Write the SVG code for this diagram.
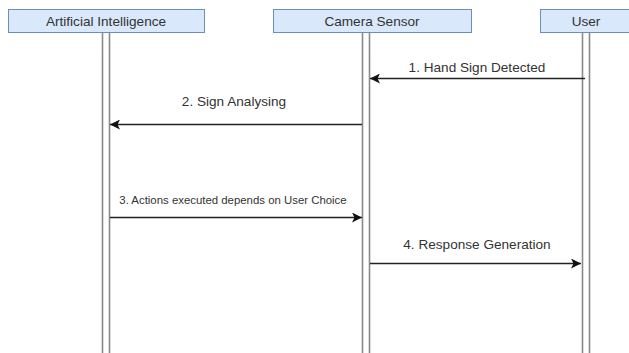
<svg xmlns="http://www.w3.org/2000/svg" width="629" height="353" viewBox="0 0 629 353">
<style>
.box{fill:#dae8fc;stroke:#6c8ebf;stroke-width:1}
.life{stroke:#8a8a8a;stroke-width:1.6;fill:none}
.hdr{font-family:"Liberation Sans",Arial,sans-serif;font-size:13.6px;fill:#333;text-anchor:middle}
.lbl{font-family:"Liberation Sans",Arial,sans-serif;font-size:13.6px;fill:#333;text-anchor:middle}
.sm{font-family:"Liberation Sans",Arial,sans-serif;font-size:11.4px;fill:#333;text-anchor:middle}
.msg{stroke:#222;stroke-width:1.3;fill:none;marker-end:url(#ah)}
</style>
<defs>
<marker id="ah" viewBox="0 0 10 10" refX="10" refY="5" markerWidth="10" markerHeight="10" markerUnits="userSpaceOnUse" orient="auto">
<path d="M0,0 L10,5 L0,10 L2.5,5 Z" fill="#111"/>
</marker>
</defs>
<rect width="629" height="353" fill="#fff"/>
<g id="ai">
<line class="life" x1="102.5" y1="33" x2="102.5" y2="353"/>
<line class="life" x1="109.5" y1="33" x2="109.5" y2="353"/>
<rect class="box" x="8.5" y="9.5" width="196" height="23"/>
<text class="hdr" x="106" y="25.5">Artificial Intelligence</text>
</g>
<g id="camera">
<line class="life" x1="362.5" y1="33" x2="362.5" y2="353"/>
<line class="life" x1="369.5" y1="33" x2="369.5" y2="353"/>
<rect class="box" x="273.5" y="9.5" width="198" height="23"/>
<text class="hdr" x="372" y="25.5">Camera Sensor</text>
</g>
<g id="user">
<line class="life" x1="582.5" y1="33" x2="582.5" y2="353"/>
<line class="life" x1="589.5" y1="33" x2="589.5" y2="353"/>
<rect class="box" x="540.5" y="9.5" width="94" height="23"/>
<text class="hdr" x="586" y="25.5">User</text>
</g>
<g id="connectors">
<line class="msg" x1="585" y1="78.5" x2="370" y2="78.5"/>
<text class="lbl" x="477" y="72">1. Hand Sign Detected</text>
<line class="msg" x1="362" y1="124.5" x2="110" y2="124.5"/>
<text class="lbl" x="234" y="106">2. Sign Analysing</text>
<line class="msg" x1="110" y1="217.5" x2="362" y2="217.5"/>
<text class="sm" x="233" y="204">3. Actions executed depends on User Choice</text>
<line class="msg" x1="370" y1="263.5" x2="581" y2="263.5"/>
<text class="lbl" x="477" y="249">4. Response Generation</text>
</g>
</svg>
